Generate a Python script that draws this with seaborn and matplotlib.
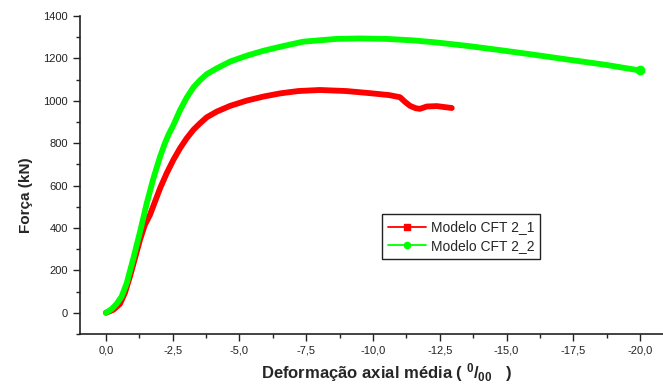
import numpy as np
import pandas as pd
import seaborn as sns
import matplotlib
matplotlib.use("Agg")
from matplotlib import pyplot as plt
from matplotlib.lines import Line2D
from matplotlib.ticker import MultipleLocator, FuncFormatter

# ----------------------------------------------------------------------------------------------------------------------
#   Dados (deformacao em por mil, forca em kN)
# ----------------------------------------------------------------------------------------------------------------------

def_cft21 = [0.0, -0.275, -0.525, -0.71, -0.90, -1.09, -1.275, -1.46, -1.65, -1.84, -2.03, -2.275, -2.525,
             -2.775, -3.025, -3.275, -3.525, -3.775, -4.15, -4.65, -5.275, -5.90, -6.525, -7.2, -8.01, -9.0,
             -9.89, -10.6, -11.01, -11.2, -11.39, -11.6, -11.76, -11.9, -12.01, -12.39, -12.95]
forca_cft21 = [0, 14, 42, 93, 171, 258, 344, 415, 462, 525, 588, 658, 721,
               776, 823, 863, 894, 922, 949, 976, 1001, 1020, 1035, 1046, 1051, 1046,
               1036, 1027, 1017, 995, 976, 965, 962, 968, 973, 975, 966]

def_cft22 = [0.0, -0.21, -0.40, -0.59, -0.78, -1.03, -1.28, -1.53, -1.78, -2.03, -2.21, -2.34, -2.53,
             -2.78, -3.03, -3.28, -3.53, -3.78, -4.15, -4.65, -5.28, -5.90, -6.53, -7.39, -8.64, -9.5,
             -10.51, -11.5, -12.39, -13.6, -14.88, -16.1, -17.38, -18.7, -20.0]
forca_cft22 = [0, 17, 42, 77, 140, 258, 383, 517, 635, 737, 800, 839, 886,
               957, 1016, 1064, 1098, 1126, 1153, 1185, 1213, 1236, 1255, 1279, 1292, 1294,
               1292, 1285, 1275, 1258, 1237, 1216, 1193, 1170, 1143]

series = ['Modelo CFT 2_1', 'Modelo CFT 2_2']
cores = ['#ff0000', '#00ff00']

df = pd.concat([
    pd.DataFrame({'def': def_cft21, 'forca': forca_cft21, 'modelo': series[0]}),
    pd.DataFrame({'def': def_cft22, 'forca': forca_cft22, 'modelo': series[1]}),
])

# ----------------------------------------------------------------------------------------------------------------------

sns.set_style('ticks')
plt.rcParams['font.family'] = ['Liberation Sans', 'DejaVu Sans']
plt.rcParams['mathtext.fontset'] = 'custom'
plt.rcParams['mathtext.rm'] = 'Liberation Sans:bold'
plt.rcParams['mathtext.default'] = 'rm'

fig = plt.figure(figsize=(6.63, 3.85), dpi=100)
axes = fig.add_axes([80 / 663, 51 / 385, 583 / 663, 318 / 385])

sns.lineplot(x='def', y='forca', hue='modelo', data=df, ax=axes, palette=cores,
             linewidth=4.2, sort=False, legend=False, estimator=None,
             solid_capstyle='round', solid_joinstyle='round')
# pontinho no fim da curva verde
axes.plot(def_cft22[-1:], forca_cft22[-1:], 'o', color=cores[1], markersize=6)

axes.set_xlim(0.97, -20.86)
axes.set_ylim(-100, 1400)

axes.xaxis.set_major_locator(MultipleLocator(2.5))
axes.xaxis.set_minor_locator(MultipleLocator(1.25))
axes.yaxis.set_major_locator(MultipleLocator(200))
axes.yaxis.set_minor_locator(MultipleLocator(100))
axes.xaxis.set_major_formatter(FuncFormatter(lambda v, p: ('%.1f' % v).replace('.', ',').replace('-0,0', '0,0')))
axes.yaxis.set_major_formatter(FuncFormatter(lambda v, p: '%d' % v))

axes.tick_params(which='major', direction='out', length=5, width=1, labelsize=8, colors='#222222')
axes.tick_params(which='minor', direction='out', length=3, width=1, colors='#222222')
for s in ['left', 'bottom']:
    axes.spines[s].set_color('#222222')
    axes.spines[s].set_linewidth(1.2)
sns.despine(ax=axes)

axes.set_xlabel(r'Deformação axial média ( $^{0}/_{00}\hspace{0.9}$)', fontsize=12, fontweight='bold')
axes.set_ylabel('Força (kN)', fontsize=11, fontweight='bold')
axes.xaxis.set_label_coords(0.527, -0.085)
axes.yaxis.set_label_coords(-0.08, 0.4355)

handles = [Line2D([], [], color=cores[0], marker='s', markersize=4.5, linewidth=1.3),
           Line2D([], [], color=cores[1], marker='o', markersize=4.5, linewidth=1.3)]
leg = axes.legend(handles, series, loc='upper left', bbox_to_anchor=(0.518, 0.377), borderaxespad=0,
                  fontsize=10, frameon=True, fancybox=False, edgecolor='#222222', framealpha=1,
                  handlelength=2.7, handletextpad=0.35, borderpad=0.45, labelspacing=0.3)
leg.get_frame().set_linewidth(1)

fig.savefig('out.png', dpi=100)
